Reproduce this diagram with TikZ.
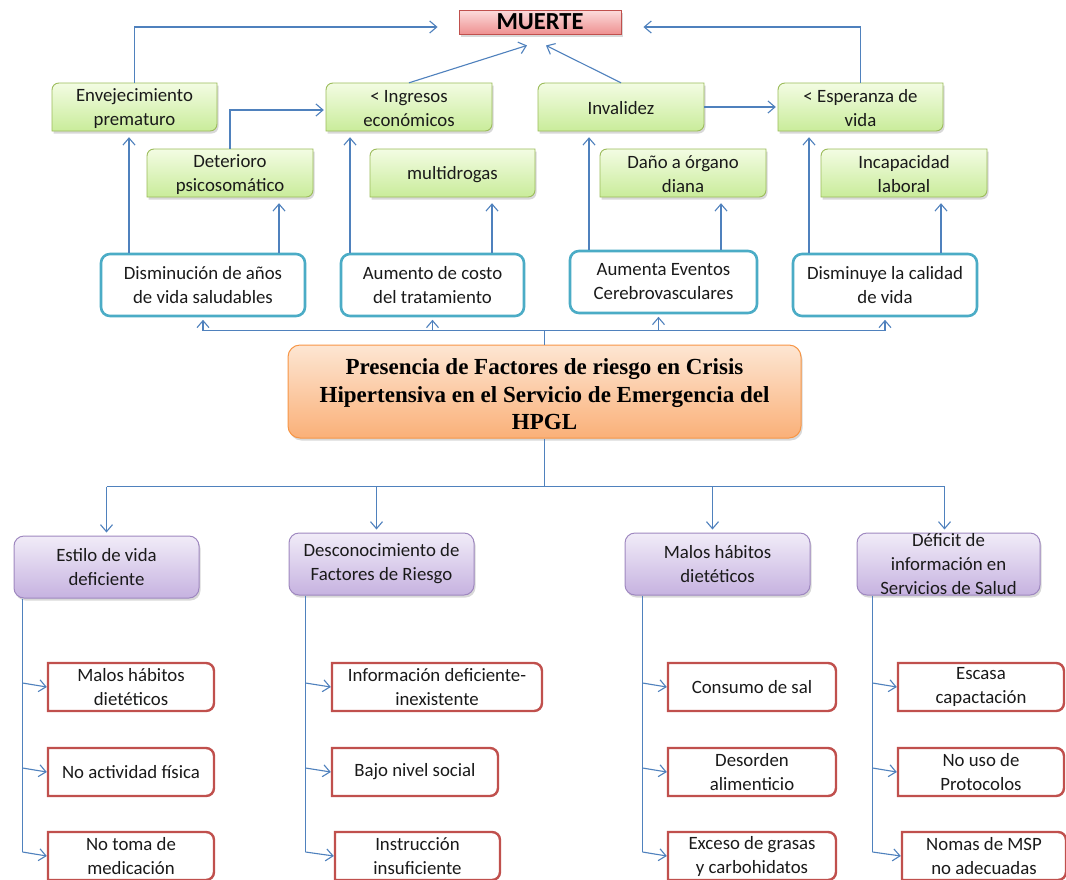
\documentclass[tikz,border=0pt]{standalone}
\usepackage{fontspec}
\setmainfont{Carlito}
\newfontfamily\titlefont{Liberation Serif}
\usetikzlibrary{arrows.meta,fit,calc,shadows}
\definecolor{linec}{HTML}{4F81BD}
\definecolor{gborder}{HTML}{9BBB59}
\definecolor{gtop}{HTML}{F3FCE3}
\definecolor{gbot}{HTML}{C9EC9A}
\definecolor{bborder}{HTML}{4BACC6}
\definecolor{pborder}{HTML}{9F88C0}
\definecolor{ptop}{HTML}{F1ECF8}
\definecolor{pbot}{HTML}{C6B2E0}
\definecolor{oborder}{HTML}{F79646}
\definecolor{otop}{HTML}{FDE6D3}
\definecolor{obot}{HTML}{FAB078}
\definecolor{rborder}{HTML}{C0504D}
\definecolor{ktop}{HTML}{FCDCDC}
\definecolor{kbot}{HTML}{EE9191}
\definecolor{txtc}{HTML}{1A1A1A}
\newcommand{\gbox}[6]{%
  \path[gshape] (#2,#3+7) .. controls (#2,#3+3) and (#2+3,#3) .. (#2+7,#3) -- (#4,#3) -- (#4,#5-7) .. controls (#4,#5-3) and (#4-3,#5) .. (#4-7,#5) -- (#2,#5) -- cycle;
  \node[inner sep=0pt, fit={(#2,#3) (#4,#5)}] (#1) {};
  \node[txt, yshift=-1.5pt] (#1t) at (#1.center) {#6};}
\newcommand{\rbox}[6]{%
  \path[rshape] (#2,#3) -- (#4-8,#3) .. controls (#4-3.5,#3) and (#4,#3+3.5) .. (#4,#3+8) -- (#4,#5-8) .. controls (#4,#5-3.5) and (#4-3.5,#5) .. (#4-8,#5) -- (#2,#5) -- cycle;
  \node[inner sep=0pt, fit={(#2,#3) (#4,#5)}] (#1) {};
  \node[txt] (#1t) at (#1.center) {#6};}
\newcommand{\stbox}[7]{% style, name, x1,y1,x2,y2, text
  \node[#1, inner sep=0pt, fit={(#3,#4) (#5,#6)}] (#2) {};
  \node[txt] (#2t) at (#2.center) {#7};}
\begin{document}
\begin{tikzpicture}[x=1pt,y=-1pt,
  txt/.style={font=\fontsize{18.8}{24}\selectfont, align=center, inner sep=0pt, text=txtc},
  con/.style={draw=linec, line width=1.1pt},
  arr/.style={con, -{Straight Barb[length=7pt,width=12pt,line width=1.1pt]}},
  shad/.style={drop shadow={shadow xshift=1.5pt, shadow yshift=-2.5pt, opacity=0.3}},
  gshape/.style={draw=gborder, line width=0.9pt, top color=gtop, bottom color=gbot, shad},
  rshape/.style={draw=rborder, line width=2.4pt, fill=white},
  bbox/.style={draw=bborder, line width=2.6pt, rounded corners=9pt, fill=white},
  pbox/.style={draw=pborder, line width=1pt, rounded corners=10pt, top color=ptop, bottom color=pbot, shad},
  obox/.style={draw=oborder, line width=1pt, rounded corners=12pt, top color=otop, bottom color=obot, shad},
  kbox/.style={draw=rborder, line width=0.9pt, top color=ktop, bottom color=kbot, shad}
]
\useasboundingbox[fill=white] (0,0) rectangle (1066,879);

% top
\node[kbox, inner sep=0pt, fit={(459,10) (621,34)}] (muerte) {};
\node[inner sep=0pt, font=\bfseries\fontsize{24.5}{26}\selectfont] (muertet) at (muerte.center) {MUERTE};
\gbox{env}{52}{83}{217}{131}{Envejecimiento\\prematuro}
\gbox{ing}{326}{83}{492}{131}{< Ingresos\\económicos}
\gbox{inv}{538}{83}{704}{131}{Invalidez}
\gbox{esp}{778}{83}{943}{131}{< Esperanza de\\vida}
\gbox{det}{147}{149}{313}{197}{Deterioro\\psicosomático}
\gbox{mul}{370}{149}{535}{197}{multidrogas}
\gbox{dan}{600}{149}{766}{197}{Daño a órgano\\diana}
\gbox{inc}{821}{149}{987}{197}{Incapacidad\\laboral}

\stbox{bbox}{dism}{101}{254}{305}{316}{Disminución de años\\de vida saludables}
\stbox{bbox}{aum}{341}{254}{524}{316}{Aumento de costo\\del tratamiento}
\stbox{bbox}{even}{570}{251}{757}{313}{Aumenta Eventos\\Cerebrovasculares}
\stbox{bbox}{dimc}{793}{254}{977}{316}{Disminuye la calidad\\de vida}

\node[obox, inner sep=0pt, fit={(288,345) (801,438)}] (main) {};
\node[align=center, inner sep=0pt, yshift=-3pt, font=\titlefont\bfseries\fontsize{23}{27.5}\selectfont] (maint) at (main.center)
  {Presencia de Factores de riesgo en Crisis\\Hipertensiva en el Servicio de Emergencia del\\HPGL};

\stbox{pbox}{est}{14}{536}{199}{598}{Estilo de vida\\deficiente}
\stbox{pbox}{desc}{289}{533}{474}{595}{Desconocimiento de\\Factores de Riesgo}
\stbox{pbox}{mal}{625}{533}{810}{595}{Malos hábitos\\dietéticos}
\stbox{pbox}{def}{857}{533}{1040}{595}{Déficit de\\información en\\Servicios de Salud}

\rbox{ra1}{48}{663}{214}{711}{Malos hábitos\\dietéticos}
\rbox{ra2}{48}{748}{214}{796}{No actividad física}
\rbox{ra3}{48}{832}{214}{880}{No toma de\\medicación}
\rbox{rb1}{332}{663}{542}{711}{Información deficiente-\\inexistente}
\rbox{rb2}{332}{748}{498}{796}{Bajo nivel social}
\rbox{rb3}{335}{832}{500}{880}{Instrucción\\insuficiente}
\rbox{rc1}{668}{663}{836}{711}{Consumo de sal}
\rbox{rc2}{668}{748}{836}{796}{Desorden\\alimenticio}
\rbox{rc3}{668}{832}{836}{880}{Exceso de grasas\\y carbohidatos}
\rbox{rd1}{898}{663}{1064}{711}{Escasa\\capactación}
\rbox{rd2}{898}{748}{1064}{796}{No uso de\\Protocolos}
\rbox{rd3}{902}{832}{1066}{880}{Nomas de MSP\\no adecuadas}

% connectors to MUERTE
\draw[arr] (env.north) |- ($(muerte.west)+(-21,5)$);
\draw[arr] (esp.north) |- ($(muerte.east)+(22,5)$);
\draw[arr] (ing.north) -- ($(muerte.south)+(-13,11)$);
\draw[arr] (inv.north) -- ($(muerte.south)+(6,11)$);
\draw[arr] (det.north) |- ($(ing.west)+(-2,3)$);
\draw[arr] (inv.east) -- ($(esp.west)+(-2,0)$);

% blue -> green
\coordinate (u1) at ($(dism.north)+(-74,0)$);
\coordinate (u2) at ($(dism.north)+(76,0)$);
\coordinate (u3) at ($(aum.north)+(-82.5,0)$);
\coordinate (u4) at ($(aum.north)+(59.5,0)$);
\coordinate (u5) at ($(even.north)+(-74.5,0)$);
\coordinate (u6) at ($(even.north)+(57.5,0)$);
\coordinate (u7) at ($(dimc.north)+(-76,0)$);
\coordinate (u8) at ($(dimc.north)+(56,0)$);
\draw[arr] (u1) -- ($(u1 |- env.south)+(0,6)$);
\draw[arr] (u2) -- ($(u2 |- det.south)+(0,6)$);
\draw[arr] (u3) -- ($(u3 |- ing.south)+(0,6)$);
\draw[arr] (u4) -- ($(u4 |- mul.south)+(0,6)$);
\draw[arr] (u5) -- ($(u5 |- inv.south)+(0,6)$);
\draw[arr] (u6) -- ($(u6 |- dan.south)+(0,6)$);
\draw[arr] (u7) -- ($(u7 |- esp.south)+(0,6)$);
\draw[arr] (u8) -- ($(u8 |- inc.south)+(0,6)$);

% upper bus
\coordinate (tb) at ($(main.north)+(0,-14)$);
\draw[con] (main.north) -- (tb);
\draw[con] (tb -| dism.south) -- (tb -| dimc.south);
\draw[arr] (tb -| dism.south) -- ($(dism.south)+(0,2.5)$);
\draw[arr] (tb -| aum.south) -- ($(aum.south)+(0,2.5)$);
\coordinate (ev) at ($(even.south)+(-5,2.5)$);
\draw[arr] (ev |- tb) -- (ev);
\draw[arr] (tb -| dimc.south) -- ($(dimc.south)+(0,2.5)$);

% lower bus
\coordinate (bb) at ($(main.south)+(0,48)$);
\draw[con] (main.south) -- (bb);
\coordinate (d1) at ($(est.north)+(0,-3)$);
\coordinate (d2) at ($(desc.north)+(-5,-3)$);
\coordinate (d3) at ($(mal.north)+(-5,-3)$);
\coordinate (d4) at ($(def.north)+(-4,-3)$);
\draw[con] (d1 |- bb) -- (d4 |- bb);
\draw[arr] (d1 |- bb) -- (d1);
\draw[arr] (d2 |- bb) -- (d2);
\draw[arr] (d3 |- bb) -- (d3);
\draw[arr] (d4 |- bb) -- (d4);

% spines
\coordinate (s1) at ($(est.south west)+(9,0)$);
\coordinate (s2) at ($(desc.south west)+(17,0)$);
\coordinate (s3) at ($(mal.south west)+(18,0)$);
\coordinate (s4) at ($(def.south west)+(16,0)$);
\draw[con] (s1) -- ($(s1 |- ra3.west)+(0,-4)$);
\draw[con] (s2) -- ($(s2 |- rb3.west)+(0,-4)$);
\draw[con] (s3) -- ($(s3 |- rc3.west)+(0,-4)$);
\draw[con] (s4) -- ($(s4 |- rd3.west)+(0,-4)$);
\foreach \s/\r in {s1/ra1,s1/ra2,s1/ra3,s2/rb1,s2/rb2,s2/rb3,s3/rc1,s3/rc2,s3/rc3,s4/rd1,s4/rd2,s4/rd3}
  \draw[arr] ($(\s |- \r.west)+(0,-4)$) -- ($(\r.west)+(-1,0)$);
\end{tikzpicture}
\end{document}
